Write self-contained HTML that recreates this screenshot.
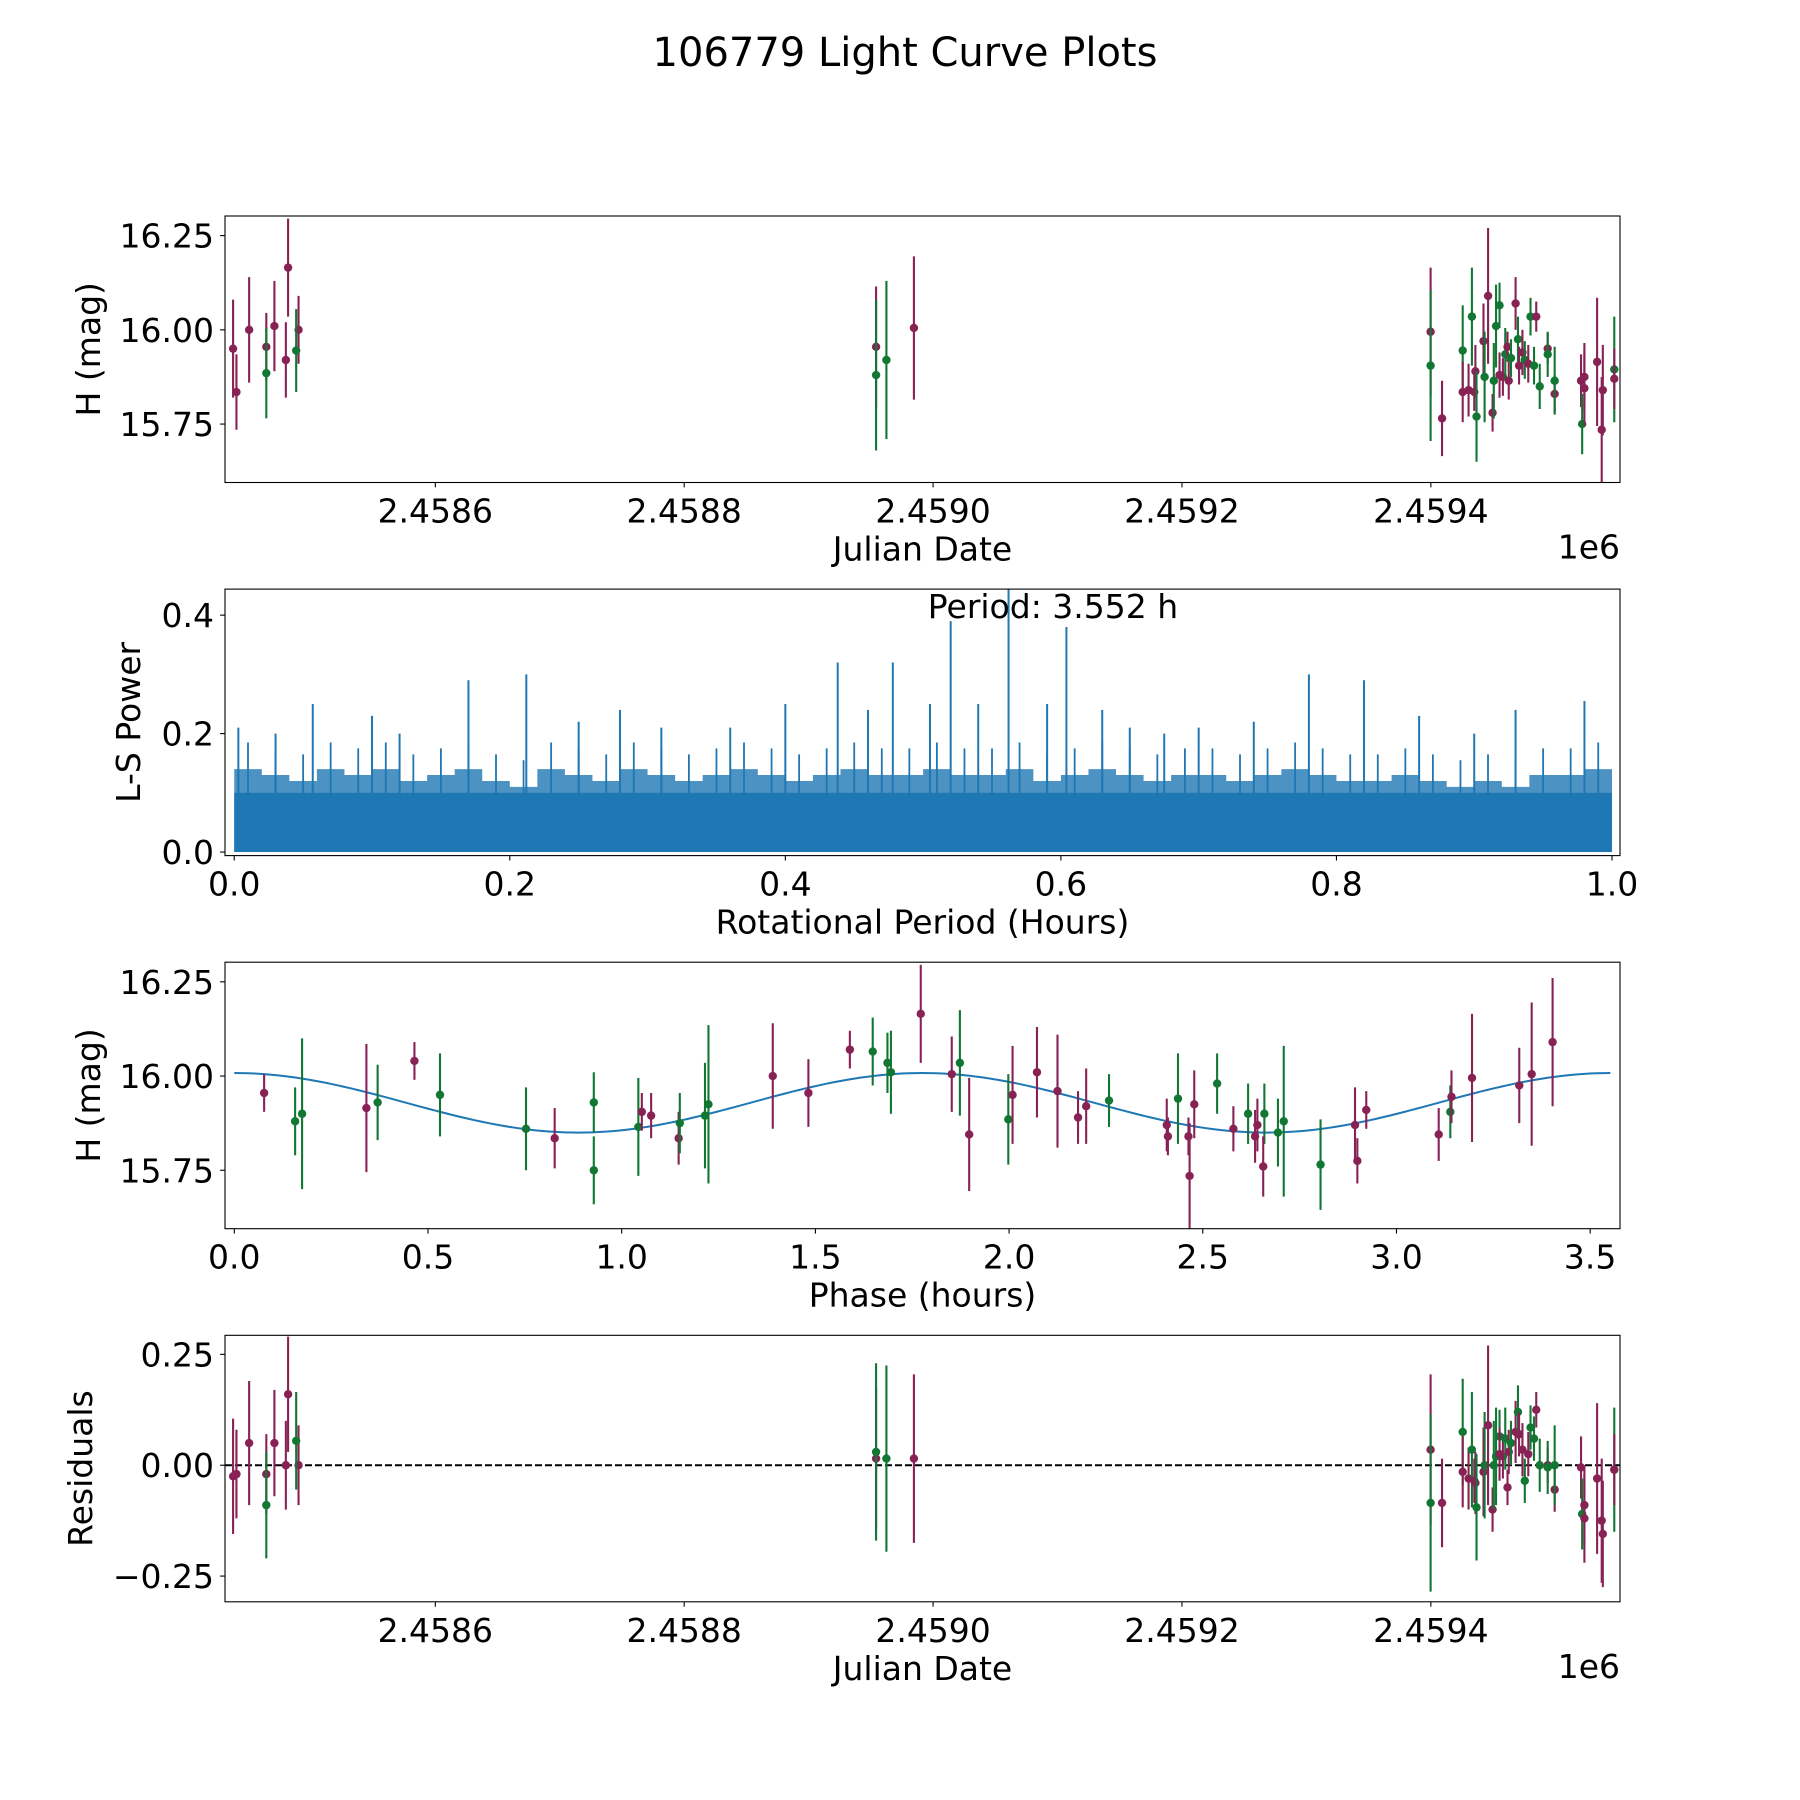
<!DOCTYPE html>
<html><head><meta charset="utf-8">
<style>
html,body{margin:0;padding:0;background:#fff;}
svg{display:block;font-family:"DejaVu Sans","Liberation Sans",sans-serif;}
</style></head>
<body>
<svg id="fig" xmlns="http://www.w3.org/2000/svg" width="1800" height="1800" viewBox="0 0 1800 1800">
<rect x="0" y="0" width="1800" height="1800" fill="#fff"/>
<text x="905" y="66" font-size="40" text-anchor="middle">106779 Light Curve Plots</text>
</svg>
<script>
// ---------- DATA ----------
const jd = [2458437.5,2458440.2,2458450.4,2458464.2,2458470.7,2458479.9,2458481.7,2458490.1,2458464.2,2458488.2,
2458954.2,2458954.2,2458962.5,2458984.6,
2459399.8,2459399.8,2459409.0,2459425.6,2459425.6,2459430.3,2459433.0,2459434.9,2459435.8,2459436.7,2459442.3,2459443.2,2459446.0,2459449.6,2459450.6,2459452.4,2459455.2,2459455.2,2459457.9,2459459.8,2459461.6,2459462.6,2459464.4,2459468.1,2459470.0,2459470.9,2459473.6,2459475.5,2459478.3,2459480.1,2459482.9,2459484.7,2459487.5,2459493.9,2459493.9,2459499.5,2459499.5,2459520.7,2459521.6,2459523.4,2459523.4,2459533.6,2459537.3,2459538.2,2459547.4,2459547.4];
const mag = [15.95,15.835,16.00,15.955,16.01,15.92,16.165,16.00,15.885,15.945,
15.955,15.88,15.92,16.005,
15.995,15.905,15.765,15.945,15.835,15.84,16.035,15.835,15.89,15.77,15.97,15.875,16.09,15.78,15.865,16.01,16.065,15.88,15.875,15.935,15.955,15.865,15.925,16.07,15.975,15.905,15.94,15.92,15.91,16.035,15.905,16.035,15.85,15.95,15.935,15.83,15.865,15.865,15.75,15.875,15.845,15.915,15.735,15.84,15.895,15.87];
const magErr = [0.13,0.10,0.14,0.09,0.12,0.10,0.13,0.09,0.12,0.11,
0.16,0.20,0.21,0.19,
0.17,0.20,0.10,0.12,0.08,0.07,0.13,0.05,0.07,0.12,0.10,0.12,0.18,0.05,0.10,0.11,0.06,0.06,0.05,0.07,0.04,0.05,0.05,0.07,0.06,0.05,0.06,0.05,0.05,0.05,0.05,0.04,0.06,0.04,0.06,0.05,0.09,0.07,0.08,0.09,0.10,0.17,0.14,0.12,0.14,0.08];
const band = ['p','p','p','p','p','p','p','p','g','g',
'p','g','g','p',
'p','g','p','g','p','p','g','p','p','g','p','g','p','p','g','g','g','p','p','g','p','p','g','p','g','p','p','g','p','g','g','p','g','p','g','p','g','p','g','p','p','p','p','p','g','p'];
const resid = [-0.025,-0.02,0.05,-0.02,0.05,0.0,0.16,0.0,-0.09,0.055,
0.015,0.03,0.015,0.015,
0.035,-0.085,-0.085,0.075,-0.015,-0.03,0.035,-0.035,-0.04,-0.095,-0.015,0.0,0.09,-0.1,0.0,0.02,0.065,0.025,0.02,0.06,-0.05,0.03,0.05,0.075,0.12,0.07,0.035,-0.035,0.025,0.085,0.06,0.125,0.0,0.0,-0.005,-0.055,0.0,-0.005,-0.11,-0.09,-0.12,-0.03,-0.125,-0.155,-0.01,-0.01];

const phase = [0.077,0.157,0.175,0.341,0.370,0.465,0.531,0.753,0.827,0.928,0.928,1.043,1.052,1.076,1.147,1.150,1.215,1.224,1.390,1.482,1.589,1.648,1.686,1.695,1.772,1.852,1.873,1.897,1.998,2.009,2.072,2.125,2.178,2.199,2.258,2.407,2.410,2.436,2.463,2.466,2.478,2.537,2.579,2.617,2.635,2.641,2.659,2.656,2.694,2.709,2.804,2.893,2.899,2.922,3.109,3.139,3.142,3.195,3.317,3.349,3.403];
const phaseMag = [15.955,15.88,15.90,15.915,15.93,16.04,15.95,15.86,15.835,15.93,15.75,15.865,15.905,15.895,15.835,15.875,15.895,15.925,16.00,15.955,16.07,16.065,16.035,16.01,16.165,16.005,16.035,15.845,15.885,15.95,16.01,15.96,15.89,15.92,15.935,15.87,15.84,15.94,15.84,15.735,15.925,15.98,15.86,15.9,15.84,15.87,15.9,15.76,15.85,15.88,15.765,15.87,15.775,15.91,15.845,15.905,15.945,15.995,15.975,16.005,16.09];
const phaseErr = [0.05,0.09,0.20,0.17,0.10,0.05,0.11,0.11,0.08,0.08,0.09,0.13,0.05,0.06,0.07,0.08,0.14,0.21,0.14,0.09,0.05,0.09,0.08,0.11,0.13,0.10,0.14,0.15,0.12,0.13,0.12,0.15,0.07,0.10,0.07,0.07,0.05,0.12,0.05,0.14,0.09,0.08,0.06,0.08,0.07,0.07,0.08,0.08,0.09,0.20,0.12,0.10,0.06,0.05,0.07,0.07,0.07,0.17,0.10,0.19,0.17];
const phaseBand = ['p','g','g','p','g','p','g','g','p','g','g','g','p','p','p','g','g','g','p','p','p','g','g','g','p','p','g','p','g','p','p','p','p','p','g','p','p','g','p','p','p','g','p','g','p','p','g','p','g','g','g','p','p','p','p','g','p','p','p','p','p'];

// model fit parameters (fitted sinusoid, 2 cycles / period)
const fitParams = [15.929, 0.079, 3.552];

// periodogram: envelope per 0.02 h bin, solid base level, notable spikes
const envBins = [0.17,0.16,0.15,0.17,0.16,0.17,0.15,0.16,0.17,0.15,0.14,0.17,0.16,0.15,0.17,0.16,0.15,0.16,0.17,0.16,0.15,0.16,0.17,0.16,0.16,0.17,0.16,0.16,0.17,0.15,0.16,0.17,0.16,0.15,0.16,0.16,0.15,0.16,0.17,0.16,0.15,0.15,0.16,0.15,0.14,0.15,0.14,0.16,0.16,0.17];
const baseLevel = [0.1];
const peakPeriod = [0.003,0.03,0.057,0.1,0.12,0.17,0.212,0.25,0.28,0.31,0.36,0.4,0.438,0.46,0.478,0.505,0.52,0.54,0.562,0.59,0.604,0.63,0.65,0.675,0.7,0.74,0.78,0.82,0.86,0.9,0.93,0.98];
const peakPower = [0.21,0.20,0.25,0.23,0.20,0.29,0.30,0.22,0.24,0.21,0.21,0.25,0.32,0.24,0.32,0.25,0.39,0.25,0.445,0.25,0.38,0.24,0.21,0.20,0.21,0.22,0.30,0.29,0.23,0.20,0.24,0.255];

const xTicksJD = [2458600,2458800,2459000,2459200,2459400];
const xTickLabelsJD = ['2.4586','2.4588','2.4590','2.4592','2.4594'];
const yTicksMag = [15.75,16.00,16.25];
const yTickLabelsMag = ['15.75','16.00','16.25'];
const xTicksP = [0,0.2,0.4,0.6,0.8,1.0];
const xTickLabelsP = ['0.0','0.2','0.4','0.6','0.8','1.0'];
const yTicksP = [0,0.2,0.4];
const yTickLabelsP = ['0.0','0.2','0.4'];
const xTicksPh = [0,0.5,1,1.5,2,2.5,3,3.5];
const xTickLabelsPh = ['0.0','0.5','1.0','1.5','2.0','2.5','3.0','3.5'];
const yTicksR = [-0.25,0,0.25];
const yTickLabelsR = ['\u22120.25','0.00','0.25'];

// ---------- DRAWING ----------
const NS='http://www.w3.org/2000/svg';
const svg=document.getElementById('fig');
const COL={p:'#882255',g:'#117733'};
const AX_L=225, AX_R=1620, AX_H=266.5;
const AX_T=[216,589.1,962.2,1335.3];
const FS=33;
function mk(tag,attrs,parent){const e=document.createElementNS(NS,tag);for(const k in attrs)e.setAttribute(k,attrs[k]);(parent||svg).appendChild(e);return e;}
function scale(d0,d1,r0,r1){return v=>r0+(v-d0)/(d1-d0)*(r1-r0);}

function axes(i,xl,yl,xt,xtl,yt,ytl,xlabel,ylabel,ylabelX,name,offsetText){
  const top=AX_T[i],bot=top+AX_H;
  const g=mk('g',{});
  
  
  const sx=scale(xl[0],xl[1],AX_L,AX_R), sy=scale(yl[0],yl[1],bot,top);
  const clipId='clip'+i;
  const cp=mk('clipPath',{id:clipId},g);
  mk('rect',{x:AX_L,y:top,width:AX_R-AX_L,height:AX_H},cp);
  const plot=mk('g',{'clip-path':'url(#'+clipId+')'},g);
  
  
  const ticks=mk('g',{},g);
  
  
  xt.forEach((v,k)=>{const x=sx(v);
    mk('line',{x1:x,x2:x,y1:bot,y2:bot+4.9,stroke:'#000','stroke-width':1.1},ticks);
    const t=mk('text',{x:x,y:bot+40,'font-size':FS,'text-anchor':'middle'},ticks);t.textContent=xtl[k];});
  yt.forEach((v,k)=>{const y=sy(v);
    mk('line',{x1:AX_L-4.9,x2:AX_L,y1:y,y2:y,stroke:'#000','stroke-width':1.1},ticks);
    const t=mk('text',{x:AX_L-11,y:y+12,'font-size':FS,'text-anchor':'end'},ticks);t.textContent=ytl[k];});
  const xlab=mk('text',{x:(AX_L+AX_R)/2,y:bot+78,'font-size':FS,'text-anchor':'middle'},g);
  xlab.textContent=xlabel;
  
  
  const ylab=mk('text',{x:ylabelX,y:(top+bot)/2,'font-size':FS,'text-anchor':'middle',transform:'rotate(-90 '+ylabelX+' '+(top+bot)/2+')'},g);
  ylab.textContent=ylabel;
  
  
  if(offsetText){const o=mk('text',{x:AX_R,y:bot+76,'font-size':FS,'text-anchor':'end'},g);o.textContent=offsetText;
    
    }
  return {sx,sy,plot,g,top,bot};
}
function frame(a){const r=mk('rect',{x:AX_L,y:a.top,width:AX_R-AX_L,height:AX_H,fill:'none',stroke:'#000','stroke-width':1.1},a.g);
  
  }
function errPoints(a,xs,ys,es,bs,prefix){
  xs.forEach((xv,k)=>{const x=a.sx(xv),y=a.sy(ys[k]);const c=COL[bs[k]];
    const grp=mk('g',{},a.plot);
    
    
    mk('line',{x1:x,x2:x,y1:a.sy(ys[k]-es[k]),y2:a.sy(ys[k]+es[k]),stroke:c,'stroke-width':2.1},grp);
    mk('circle',{cx:x,cy:y,r:4.2,fill:c},grp);});
}

// Panel 1
const a1=axes(0,[2458431,2459552],[15.595,16.302],xTicksJD,xTickLabelsJD,yTicksMag,yTickLabelsMag,'Julian Date','H (mag)',100,'light-curve-panel','1e6');
errPoints(a1,jd,mag,magErr,band,'magnitude');
frame(a1);

// Panel 2 periodogram
const a2=axes(1,[-0.0067,1.0058],[-0.006,0.444],xTicksP,xTickLabelsP,yTicksP,yTickLabelsP,'Rotational Period (Hours)','L-S Power',140,'periodogram-panel',null);
(function(){
  const a=a2;const pts=[];
  envBins.forEach((v,k)=>{const x0=k*0.02,x1=x0+0.02;pts.push(a.sx(x0)+','+a.sy(v-0.03),a.sx(x1)+','+a.sy(v-0.03));});
  const env=mk('polygon',{points:a.sx(0)+','+a.sy(0)+' '+pts.join(' ')+' '+a.sx(1)+','+a.sy(0),fill:'#1f77b4','fill-opacity':0.8},a.plot);
  
  
  const base=mk('rect',{x:a.sx(0),y:a.sy(baseLevel[0]),width:a.sx(1)-a.sx(0),height:a.sy(0)-a.sy(baseLevel[0]),fill:'#1f77b4'},a.plot);
  
  
  envBins.forEach((v,k)=>{const x=a.sx(k*0.02+0.01);
    const l=mk('line',{x1:x,x2:x,y1:a.sy(0),y2:a.sy(v+0.015),stroke:'#1f77b4','stroke-width':1.8},a.plot);
    
    });
  peakPeriod.forEach((p,k)=>{const x=a.sx(p);
    const l=mk('line',{x1:x,x2:x,y1:a.sy(0),y2:a.sy(peakPower[k]),stroke:'#1f77b4','stroke-width':2},a.plot);
    
    });
  const t=mk('text',{x:1053,y:618,'font-size':FS,'text-anchor':'middle'},a.g);
  t.textContent='Period: 3.552 h';
  
  
})();
frame(a2);

// Panel 3 phase-folded
const a3=axes(2,[-0.024,3.577],[15.595,16.302],xTicksPh,xTickLabelsPh,yTicksMag,yTickLabelsMag,'Phase (hours)','H (mag)',100,'phase-folded-panel',null);
(function(){
  const a=a3;const pts=[];
  for(let k=0;k<=200;k++){const ph=fitParams[2]*k/200;
    const m=fitParams[0]+fitParams[1]*Math.cos(4*Math.PI*ph/fitParams[2]);
    pts.push(a.sx(ph)+','+a.sy(m));}
  const pl=mk('polyline',{points:pts.join(' '),fill:'none',stroke:'#1f77b4','stroke-width':2},a.plot);
  
  
})();
errPoints(a3,phase,phaseMag,phaseErr,phaseBand,'phase');
frame(a3);

// Panel 4 residuals
const a4=axes(3,[2458431,2459552],[-0.308,0.293],xTicksJD,xTickLabelsJD,yTicksR,yTickLabelsR,'Julian Date','Residuals',92,'residuals-panel','1e6');
(function(){const y=a4.sy(0);
  const l=mk('line',{x1:AX_L,x2:AX_R,y1:y,y2:y,stroke:'#000','stroke-width':2,'stroke-dasharray':'7,3'},a4.plot);
  
  })();
errPoints(a4,jd,resid,magErr,band,'residual');
frame(a4);
</script>
</body></html>
